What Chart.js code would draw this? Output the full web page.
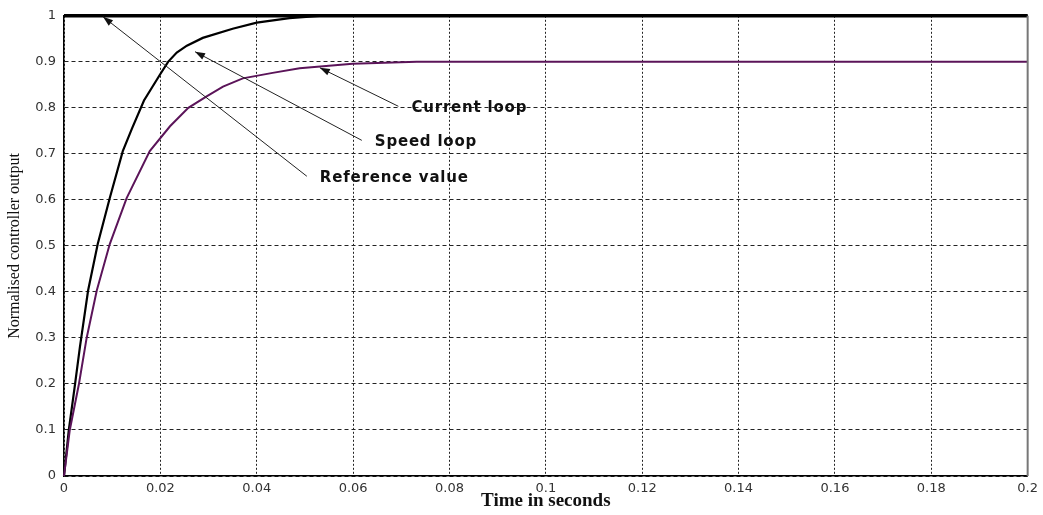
<!DOCTYPE html>
<html>
<head>
<meta charset="utf-8">
<script src="https://cdn.jsdelivr.net/npm/chart.js@4.4.0/dist/chart.umd.min.js"></script>
<style>
  html, body { margin: 0; padding: 0; background: #fff; }
  #wrap { width: 1043px; height: 515px; }
</style>
</head>
<body>
<div id="wrap"><canvas id="chart-out"></canvas></div>
<script>
// step responses, time in seconds
const speedT = [0, 0.001, 0.0023, 0.0033, 0.005, 0.007, 0.0095, 0.0122, 0.0141, 0.0166, 0.0199, 0.0216, 0.0234, 0.0255, 0.0288, 0.035, 0.040, 0.0468, 0.053, 0.2];
const speedY = [0, 0.1, 0.2, 0.28, 0.403, 0.504, 0.604, 0.706, 0.755, 0.816, 0.872, 0.9, 0.92, 0.935, 0.952, 0.972, 0.985, 0.995, 1.0, 1.0];

const currentT = [0, 0.0012, 0.0031, 0.0047, 0.0068, 0.0095, 0.013, 0.0178, 0.022, 0.0258, 0.0296, 0.033, 0.0371, 0.0433, 0.0489, 0.0599, 0.0732, 0.2];
const currentY = [0, 0.1, 0.2, 0.30, 0.403, 0.504, 0.604, 0.706, 0.76, 0.80, 0.825, 0.846, 0.864, 0.876, 0.886, 0.896, 0.9, 0.9];

const refT = [0, 0.2];
const refY = [1, 1];

const xTicks = [0, 0.02, 0.04, 0.06, 0.08, 0.1, 0.12, 0.14, 0.16, 0.18, 0.2];
const yTicks = [0, 0.1, 0.2, 0.3, 0.4, 0.5, 0.6, 0.7, 0.8, 0.9, 1];

// callouts: text anchor and arrow tip, in data units
const noteText = ['Current loop', 'Speed loop', 'Reference value'];
const noteAt = [[0.0721, 0.799], [0.0645, 0.725], [0.0531, 0.647]];
const noteTip = [[0.0531, 0.887], [0.0272, 0.922], [0.0081, 0.998]];

const pts = (t, y) => t.map((v, i) => ({ x: v, y: y[i] }));

const frame = {
  id: 'frame',
  afterDatasetsDraw(chart) {
    const { ctx, chartArea: a } = chart;
    ctx.save();
    ctx.strokeStyle = '#777';
    ctx.lineWidth = 2;
    ctx.beginPath();
    ctx.moveTo(a.right, a.top);
    ctx.lineTo(a.right, a.bottom);
    ctx.stroke();
    ctx.restore();
  }
};

const callouts = {
  id: 'callouts',
  afterDraw(chart) {
    const { ctx } = chart;
    const xs = chart.scales.x, ys = chart.scales.y;
    ctx.save();
    ctx.font = 'bold 15px "DejaVu Sans", sans-serif';
    ctx.letterSpacing = '0.8px';
    ctx.textBaseline = 'middle';
    noteText.forEach((txt, i) => {
      const tx = xs.getPixelForValue(noteAt[i][0]);
      const ty = ys.getPixelForValue(noteAt[i][1]);
      ctx.fillStyle = '#111';
      ctx.fillText(txt, tx, ty);
      const sx = tx - 13, sy = ty - 2;
      const ex = xs.getPixelForValue(noteTip[i][0]);
      const ey = ys.getPixelForValue(noteTip[i][1]);
      ctx.strokeStyle = '#222';
      ctx.lineWidth = 1;
      ctx.beginPath();
      ctx.moveTo(sx, sy);
      ctx.lineTo(ex, ey);
      ctx.stroke();
      const ang = Math.atan2(ey - sy, ex - sx);
      const len = 10, half = 3.5;
      const bx = ex - len * Math.cos(ang), by = ey - len * Math.sin(ang);
      ctx.beginPath();
      ctx.moveTo(ex, ey);
      ctx.lineTo(bx + half * Math.sin(ang), by - half * Math.cos(ang));
      ctx.lineTo(bx - half * Math.sin(ang), by + half * Math.cos(ang));
      ctx.closePath();
      ctx.fill();
    });
    ctx.restore();
  }
};

new Chart(document.getElementById('chart-out'), {
  type: 'line',
  data: {
    datasets: [
      { label: 'Reference value', data: pts(refT, refY), borderColor: '#000', borderWidth: 3.5, clip: 6 },
      { label: 'Current loop', data: pts(currentT, currentY), borderColor: '#5b1459', borderWidth: 2, clip: 6 },
      { label: 'Speed loop', data: pts(speedT, speedY), borderColor: '#000', borderWidth: 2.2, clip: 6 }
    ]
  },
  options: {
    responsive: true,
    maintainAspectRatio: false,
    animation: false,
    layout: { padding: { left: 0, right: 14, top: 14, bottom: 0 } },
    elements: { point: { radius: 0 }, line: { tension: 0 } },
    plugins: { legend: { display: false }, tooltip: { enabled: false } },
    scales: {
      x: {
        type: 'linear',
        min: 0, max: 0.2,
        afterBuildTicks: s => { s.ticks = xTicks.map(v => ({ value: v })); },
        afterFit: s => { s.height = 39; },
        grid: { color: '#222', lineWidth: 1, drawTicks: false },
        border: { color: '#000', width: 1.5, dash: [2, 2] },
        ticks: {
          padding: 5,
          color: '#333',
          font: { family: '"DejaVu Sans", sans-serif', size: 13 },
          callback: v => String(+v.toFixed(2))
        },
        title: {
          display: true,
          text: 'Time in seconds',
          color: '#111',
          font: { family: '"Liberation Serif", "Times New Roman", serif', size: 19, weight: 'bold' },
          padding: { top: 0, bottom: 3 }
        }
      },
      y: {
        min: 0, max: 1,
        afterBuildTicks: s => { s.ticks = yTicks.map(v => ({ value: v })); },
        afterFit: s => { s.width = 64; },
        grid: { color: '#222', lineWidth: 1, drawTicks: false },
        border: { color: '#000', width: 1.5, dash: [4, 3] },
        ticks: {
          padding: 8,
          color: '#333',
          font: { family: '"DejaVu Sans", sans-serif', size: 13 },
          callback: v => String(+v.toFixed(1))
        },
        title: {
          display: true,
          text: 'Normalised controller output',
          color: '#111',
          font: { family: '"Liberation Serif", "Times New Roman", serif', size: 16 },
          padding: { top: 5, bottom: 0 }
        }
      }
    }
  },
  plugins: [frame, callouts]
});
</script>
</body>
</html>
